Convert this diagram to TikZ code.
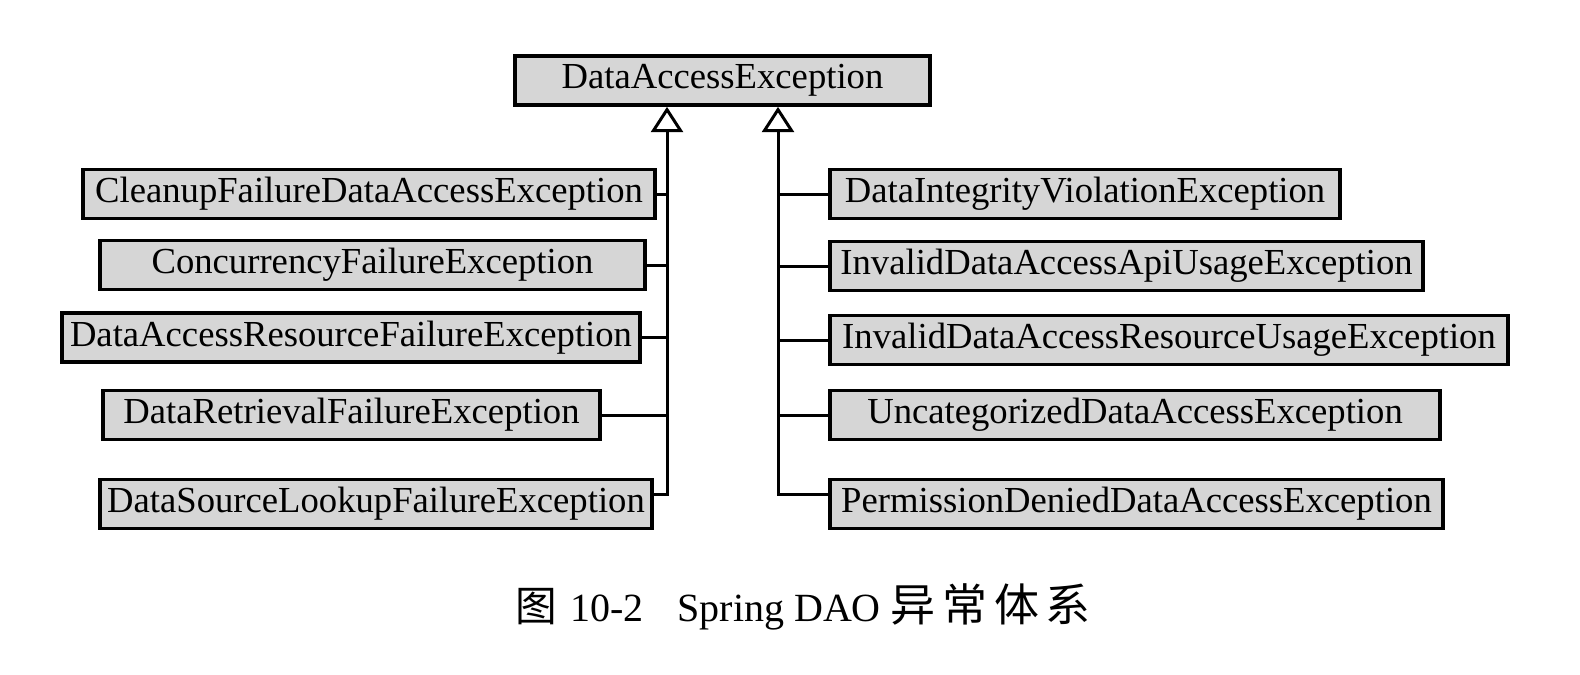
\documentclass[tikz,border=0pt]{standalone}
\usepackage{fontspec}
\setmainfont{Liberation Serif}
\newfontfamily\cjk{Noto Sans CJK SC}
\usetikzlibrary{arrows.meta}

\tikzset{
  excbox/.style={draw, line width=1.1pt, fill=black!16, minimum height=14.7pt,
    inner sep=0pt, font=\fontsize{11}{13}\selectfont},
  inherit/.style={-{Triangle[open, width=9.6pt, length=7.6pt]}}
}

\begin{document}
\begin{tikzpicture}[x=0.3pt, y=-0.3pt]
      \useasboundingbox (0,0) rectangle (1580,674);

      \begin{scope}[every node/.style={excbox}]
        \node[minimum width=124.5pt] (dae)    at (722.5,80.5) {DataAccessException};
        % left column
        \node[minimum width=171.6pt] (cfdae)  at (369,194)   {CleanupFailureDataAccessException};
        \node[minimum width=163.5pt] (cfe)    at (372.5,265) {ConcurrencyFailureException};
        \node[minimum width=173.4pt] (darfe)  at (351,337.5) {DataAccessResourceFailureException};
        \node[minimum width=149.1pt] (drfe)   at (351.5,415) {DataRetrievalFailureException};
        \node[minimum width=165.6pt] (dslfe)  at (376,504)   {DataSourceLookupFailureException};
        % right column
        \node[minimum width=153pt]   (dive)   at (1085,194)   {DataIntegrityViolationException};
        \node[minimum width=177.9pt] (idaaue) at (1126.5,266) {InvalidDataAccessApiUsageException};
        \node[minimum width=203.4pt] (idarue) at (1169,340)   {InvalidDataAccessResourceUsageException};
        \node[minimum width=183pt]   (udae)   at (1135,415)   {UncategorizedDataAccessException};
        \node[minimum width=183.9pt] (pddae)  at (1136.5,504) {PermissionDeniedDataAccessException};
      \end{scope}

      \coordinate (ltrunk) at (667,300);
      \coordinate (rtrunk) at (778,300);

      \begin{scope}[line width=0.9pt]
        \draw[inherit] ([yshift=3pt]dslfe.east) -| (dae.south -| ltrunk);
        \draw (cfdae.east) -- (cfdae.east -| ltrunk);
        \draw (cfe.east)   -- (cfe.east -| ltrunk);
        \draw (darfe.east) -- (darfe.east -| ltrunk);
        \draw (drfe.east)  -- (drfe.east -| ltrunk);

        \draw[inherit] ([yshift=3pt]pddae.west) -| (dae.south -| rtrunk);
        \draw (dive.west)   -- (dive.west -| rtrunk);
        \draw (idaaue.west) -- (idaaue.west -| rtrunk);
        \draw (idarue.west) -- (idarue.west -| rtrunk);
        \draw (udae.west)   -- (udae.west -| rtrunk);
      \end{scope}

      \node[font=\fontsize{12}{14}\selectfont] (caption) at (803,607)
        {{\cjk\fontsize{12.5}{14}\selectfont 图}\hspace{4pt}10-2\hspace{0.85em}Spring DAO\hspace{3pt}{\cjk\fontsize{13.5}{14}\selectfont 异\hspace{2pt}常\hspace{2pt}体\hspace{2pt}系}};

\end{tikzpicture}
\end{document}
